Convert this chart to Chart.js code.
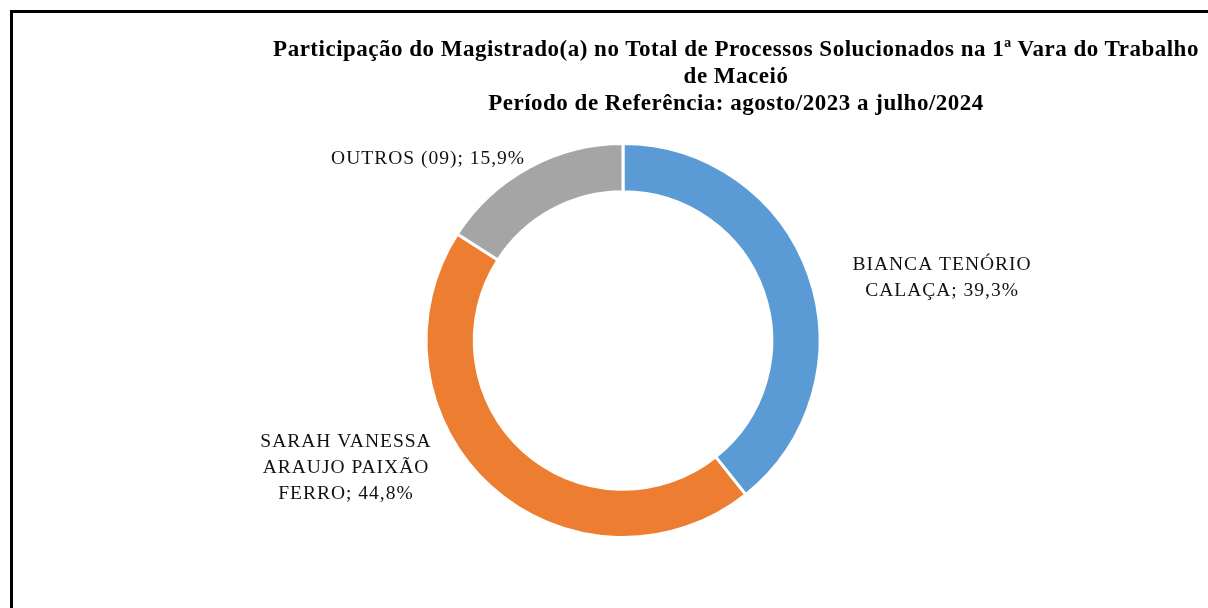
<!DOCTYPE html>
<html>
<head>
<meta charset="utf-8">
<script src="https://cdn.jsdelivr.net/npm/chart.js@4.4.0/dist/chart.umd.min.js"></script>
<style>
  html, body { margin: 0; padding: 0; background: #fff; }
  body { width: 1208px; height: 608px; position: relative; overflow: hidden; }
  #frame { position: absolute; left: 10px; top: 10px; width: 1300px; height: 700px;
           border-left: 3px solid #000; border-top: 3px solid #000; box-sizing: border-box; }
  #title { position: absolute; left: 236px; width: 1000px; top: 35px; text-align: center;
           font-family: "Liberation Serif", "Times New Roman", serif; font-weight: bold;
           font-size: 23px; line-height: 27px; letter-spacing: 0.5px; color: #000; }
  #wrap { position: absolute; left: 0; top: 0; width: 1208px; height: 608px; }
</style>
</head>
<body>
<div id="frame"></div>
<div id="wrap"><canvas id="c" width="1208" height="608"></canvas></div>
<div id="title"></div>
<script>
const titleLines = [
  "Participação do Magistrado(a) no Total de Processos Solucionados na 1ª Vara do Trabalho",
  "de Maceió",
  "Período de Referência: agosto/2023 a julho/2024"
];
const categories = ["BIANCA TENÓRIO CALAÇA", "SARAH VANESSA ARAUJO PAIXÃO FERRO", "OUTROS (09)"];
const values = [39.3, 44.8, 15.9];
const valueLabels = ["39,3%", "44,8%", "15,9%"];
const labelLines = [
  ["BIANCA TENÓRIO", "CALAÇA; 39,3%"],
  ["SARAH VANESSA", "ARAUJO PAIXÃO", "FERRO; 44,8%"],
  ["OUTROS (09); 15,9%"]
];
const colors = ["#5B9BD5", "#ED7D31", "#A5A5A5"];
// label anchor offsets, in units of outer radius, relative to doughnut centre
const labelOffsets = [[1.632, -0.322], [-1.417, 0.652], [-0.997, -0.931]];

document.getElementById('title').innerHTML = titleLines.map(t => '<div>' + t + '</div>').join('');

const labelPlugin = {
  id: 'sliceLabels',
  afterDatasetsDraw(chart) {
    const meta = chart.getDatasetMeta(0);
    const ctx = chart.ctx;
    ctx.save();
    ctx.font = '19.5px "Liberation Serif", "Times New Roman", serif';
    ctx.letterSpacing = '1px';
    ctx.fillStyle = '#111';
    ctx.textAlign = 'center';
    ctx.textBaseline = 'middle';
    const lh = 26;
    meta.data.forEach((arc, i) => {
      const R = arc.outerRadius - 1.5;
      const cx = arc.x + labelOffsets[i][0] * R;
      const cy = arc.y + labelOffsets[i][1] * R;
      const lines = labelLines[i];
      const y0 = cy - (lines.length - 1) * lh / 2;
      lines.forEach((ln, k) => ctx.fillText(ln, cx, y0 + k * lh));
    });
    ctx.restore();
  }
};

new Chart(document.getElementById('c'), {
  type: 'doughnut',
  data: {
    labels: categories,
    datasets: [{
      data: values,
      backgroundColor: colors,
      borderColor: '#ffffff',
      borderWidth: 3,
      hoverOffset: 0
    }]
  },
  options: {
    responsive: false,
    animation: false,
    radius: 197,
    cutout: 148,
    layout: { padding: { left: 238, right: 200, top: 143, bottom: 70 } },
    plugins: { legend: { display: false }, title: { display: false }, tooltip: { enabled: false } }
  },
  plugins: [labelPlugin]
});
</script>
</body>
</html>
